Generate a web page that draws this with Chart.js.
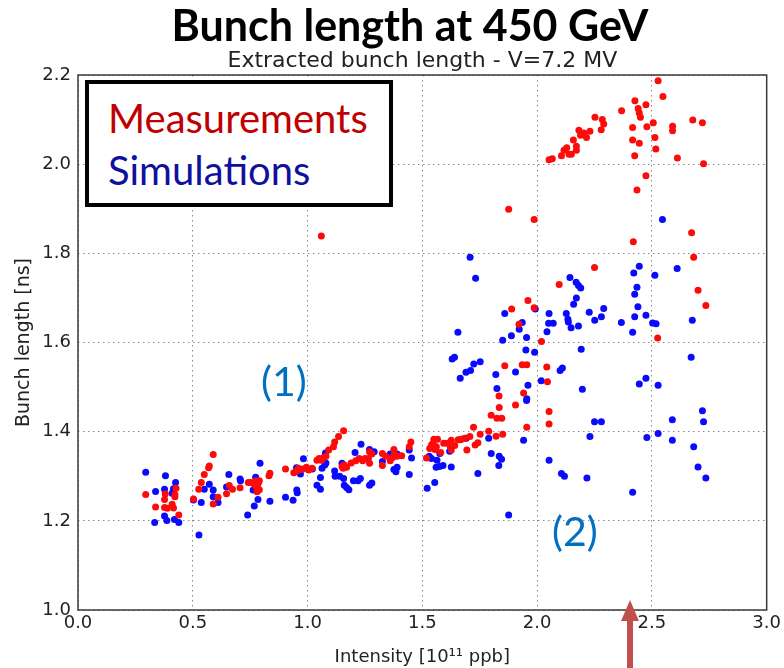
<!DOCTYPE html>
<html>
<head>
<meta charset="utf-8">
<script src="https://cdn.jsdelivr.net/npm/chart.js@4"></script>
<style>
  body { margin: 0; background: #fff; }
  #wrap { position: relative; width: 784px; height: 668px; overflow: hidden; }
  #chart { position: absolute; left: 0; top: 0; }
  .ov { position: absolute; white-space: nowrap; font-family: Lato, 'Open Sans', sans-serif; }
  #mainTitle { left: 0; width: 820px; top: -1px; text-align: center; font-weight: bold; font-size: 43px; color: #000; }
  #legendBox { left: 85px; top: 80px; width: 300px; height: 119px; border: 4px solid #000; background: #fff; }
  #legendBox div { position: absolute; left: 19px; font-size: 40px; }
  #sub1 { left: 261px; top: 356px; font-size: 41px; color: #0070c0; }
  #sub2 { left: 552px; top: 506px; font-size: 41px; color: #0070c0; }
  #arrow { position: absolute; left: 618px; top: 600px; }
</style>
</head>
<body>
<div id="wrap">
  <canvas id="chart" width="784" height="668"></canvas>
  <div class="ov" id="mainTitle">Bunch length at 450 GeV</div>
  <div class="ov" id="legendBox">
    <div style="top:10px;color:#c00000;">Measurements</div>
    <div style="top:62px;color:#10109e;">Simulations</div>
  </div>
  <div class="ov" id="sub1">(1)</div>
  <div class="ov" id="sub2">(2)</div>
  <svg id="arrow" width="24" height="70">
    <polygon points="12,0 3,21 9,21 9,70 15,70 15,21 21,21" fill="#c0504d"/>
  </svg>
</div>
<script>
// intensity [1e11 ppb], bunch length [ns]
const measX = [
  0.295, 0.338, 0.38, 0.377, 0.377, 0.389, 0.41, 0.416, 0.422, 0.422, 0.427, 0.439,
  0.503, 0.526, 0.537, 0.55, 0.569, 0.572, 0.589, 0.589, 0.61, 0.647, 0.659, 0.673, 0.706, 0.742, 0.752,
  0.77, 0.775, 0.78, 0.785, 0.79, 0.79, 0.78,
  0.832, 0.836, 0.904, 0.94, 0.952, 0.96, 0.97, 0.98, 0.995, 1.005, 1.02, 1.041, 1.05, 1.06, 1.07, 1.08,
  1.092, 1.113, 1.118, 1.135, 1.157, 1.15, 1.16, 1.17, 1.155,
  1.19, 1.21, 1.225, 1.24, 1.25, 1.265, 1.27, 1.28, 1.27, 1.326, 1.34, 1.36, 1.37, 1.376, 1.378, 1.39, 1.41,
  1.326, 1.443, 1.45,
  1.518, 1.532, 1.54, 1.547, 1.55, 1.566, 1.561, 1.555, 1.58, 1.593, 1.609, 1.622, 1.626, 1.626, 1.641,
  1.656, 1.665, 1.67, 1.684, 1.694, 1.707, 1.723, 1.73, 1.742, 1.752, 1.789, 1.8, 1.821, 1.85, 1.825,
  1.846, 1.835, 1.834, 1.906, 1.941, 1.955, 2.052, 2.052, 1.859, 1.935, 1.955, 2.042, 2.045, 2.019,
  1.921, 1.889, 1.987, 1.96, 2.096, 2.25, 1.876, 1.987, 1.06,
  2.052, 2.066, 2.106, 2.117, 2.129, 2.139, 2.149, 2.158, 2.171, 2.171, 2.182, 2.189, 2.204, 2.215, 2.23,
  2.252, 2.284, 2.29, 2.279, 2.368, 2.426, 2.474, 2.44, 2.445, 2.45, 2.527, 2.548, 2.506, 2.478, 2.416,
  2.678, 2.72, 2.59, 2.59, 2.513, 2.416, 2.445, 2.517, 2.425, 2.611, 2.725, 2.474, 2.435, 2.419, 2.673,
  2.682, 2.701, 2.735, 2.525
];
const measY = [
  1.259, 1.231, 1.26, 1.248, 1.23, 1.228, 1.237, 1.229, 1.259, 1.254, 1.273, 1.213,
  1.249, 1.271, 1.286, 1.304, 1.319, 1.323, 1.349, 1.238, 1.253, 1.261, 1.279, 1.271, 1.274, 1.286, 1.286,
  1.28, 1.29, 1.275, 1.284, 1.27, 1.29, 1.265,
  1.301, 1.307, 1.316, 1.308, 1.312, 1.318, 1.315, 1.316, 1.32, 1.314, 1.318, 1.336, 1.34, 1.336, 1.342, 1.345,
  1.359, 1.366, 1.377, 1.389, 1.402, 1.322, 1.325, 1.32, 1.318,
  1.33, 1.335, 1.34, 1.335, 1.34, 1.34, 1.355, 1.35, 1.329, 1.351, 1.345, 1.335, 1.342, 1.36, 1.35, 1.345, 1.346,
  1.324, 1.366, 1.377,
  1.341, 1.362, 1.37, 1.374, 1.383, 1.383, 1.366, 1.36, 1.353, 1.374, 1.374, 1.366, 1.381, 1.359, 1.369,
  1.382, 1.382, 1.383, 1.385, 1.359, 1.389, 1.41, 1.37, 1.375, 1.394, 1.401, 1.437, 1.39, 1.394, 1.43,
  1.43, 1.454, 1.48, 1.46, 1.487, 1.41, 1.445, 1.417, 1.548, 1.55, 1.55, 1.545, 1.512, 1.602,
  1.641, 1.675, 1.678, 1.694, 1.73, 1.768, 1.899, 1.876, 1.839,
  2.01, 2.012, 2.019, 2.031, 2.037, 2.022, 2.022, 2.054, 2.04, 2.031, 2.076, 2.065, 2.07, 2.06, 2.074,
  2.105, 2.1, 2.09, 2.077, 2.12, 2.142, 2.133, 2.125, 2.115, 2.105, 2.187, 2.152, 2.093, 2.084, 2.082,
  2.099, 2.093, 2.085, 2.075, 2.06, 2.054, 2.047, 2.034, 2.019, 2.014, 2.001, 1.974, 1.942, 1.826, 1.846,
  1.791, 1.717, 1.683, 1.61
];
const simX = [
  0.295, 0.381, 0.338, 0.425, 0.377, 0.416, 0.41, 0.377, 0.334, 0.387, 0.42, 0.439,
  0.527, 0.537, 0.55, 0.572, 0.589, 0.589, 0.61, 0.503, 0.657, 0.647, 0.706, 0.708,
  0.793, 0.774, 0.763, 0.784, 0.768, 0.739, 0.836, 0.904, 0.937, 0.953, 0.955, 0.982, 0.952, 0.969, 1.021, 1.041,
  1.056, 1.056, 1.063, 1.075, 1.078, 1.08, 1.118, 1.12, 1.14, 1.157, 1.15, 1.16, 1.17, 1.18, 1.2, 1.22, 1.23,
  1.207, 1.233, 1.27, 1.29, 1.27, 1.28, 1.326, 1.36, 1.375, 1.39, 1.376, 1.385, 1.39, 1.443, 1.453, 1.443,
  1.521, 1.554, 1.53, 1.54, 1.576, 1.564, 1.56, 1.575, 1.59, 1.626, 1.619, 1.691, 1.742, 1.789, 1.8,
  1.835, 1.845, 1.833, 1.876, 1.941, 1.954, 2.052, 2.106, 2.119,
  1.708, 1.732, 1.655, 1.859, 1.935, 1.922, 1.888, 1.85, 1.954, 1.992, 1.951, 1.989, 1.63, 1.64, 1.665,
  1.69, 1.71, 1.724, 1.752, 1.82, 1.825, 1.906, 1.96, 1.955, 2.018, 2.052, 2.05, 2.07, 2.043, 2.127,
  2.134, 2.136, 2.148, 2.18, 2.159, 2.171, 2.143, 2.17, 2.18, 2.19, 2.227, 2.251, 2.28, 2.29, 2.192,
  2.1, 2.11, 2.197, 2.25, 2.28, 2.23,
  2.546, 2.61, 2.445, 2.421, 2.513, 2.435, 2.425, 2.439, 2.425, 2.474, 2.367, 2.416, 2.503, 2.518, 2.676,
  2.671, 2.445, 2.474, 2.527, 2.72, 2.725, 2.589, 2.478, 2.527, 2.589, 2.682, 2.701, 2.735, 2.217, 2.416
];
const simY = [
  1.309, 1.301, 1.266, 1.286, 1.271, 1.272, 1.262, 1.211, 1.196, 1.201, 1.203, 1.196,
  1.168, 1.241, 1.271, 1.282, 1.269, 1.254, 1.241, 1.247, 1.304, 1.276, 1.294, 1.29,
  1.329, 1.298, 1.269, 1.248, 1.233, 1.213, 1.244, 1.253, 1.246, 1.269, 1.263, 1.339, 1.319, 1.305, 1.316, 1.28,
  1.271, 1.297, 1.318, 1.325, 1.352, 1.33, 1.312, 1.3, 1.3, 1.295, 1.329, 1.28, 1.275, 1.27, 1.29, 1.29, 1.295,
  1.353, 1.372, 1.36, 1.355, 1.28, 1.285, 1.333, 1.35, 1.352, 1.35, 1.315, 1.31, 1.32, 1.359, 1.341, 1.304,
  1.273, 1.286, 1.345, 1.34, 1.351, 1.336, 1.32, 1.322, 1.324, 1.321, 1.356, 1.385, 1.306, 1.385, 1.351,
  1.345, 1.338, 1.324, 1.213, 1.381, 1.47, 1.336, 1.306, 1.3,
  1.791, 1.744, 1.623, 1.665, 1.645, 1.63, 1.615, 1.605, 1.611, 1.675, 1.583, 1.578, 1.563, 1.567, 1.52,
  1.533, 1.537, 1.552, 1.557, 1.528, 1.497, 1.534, 1.504, 1.474, 1.514, 1.665, 1.643, 1.643, 1.624, 1.665,
  1.652, 1.646, 1.633, 1.637, 1.686, 1.7, 1.746, 1.735, 1.728, 1.722, 1.668, 1.65, 1.658, 1.676, 1.585,
  1.537, 1.543, 1.495, 1.422, 1.422, 1.389,
  1.876, 1.766, 1.771, 1.756, 1.751, 1.724, 1.708, 1.68, 1.658, 1.661, 1.645, 1.623, 1.644, 1.642, 1.65,
  1.567, 1.507, 1.52, 1.504, 1.447, 1.422, 1.427, 1.387, 1.396, 1.381, 1.366, 1.321, 1.296, 1.296, 1.264
];
const xTicks = [0, 0.5, 1.0, 1.5, 2.0, 2.5, 3.0];
const yTicks = [1.0, 1.2, 1.4, 1.6, 1.8, 2.0, 2.2];
const subTitle = 'Extracted bunch length - V=7.2 MV';

const toPts = (xs, ys) => xs.map((x, i) => ({ x: x, y: ys[i] }));
const axisFont = { family: "'DejaVu Sans', sans-serif", size: 18 };
const gridOpts = { color: '#8a8a8a', lineWidth: 1, drawTicks: false };
const borderOpts = { display: false, dash: [1.5, 3.5] };

// frame round the plot and the subtitle above it
const framePlugin = {
    id: 'frame',
    afterDraw(chart) {
        const { ctx, chartArea: a } = chart;
        ctx.save();
        ctx.strokeStyle = '#3a3a3a';
        ctx.lineWidth = 1.5;
        ctx.strokeRect(a.left, a.top, a.right - a.left, a.bottom - a.top);
        ctx.fillStyle = '#222';
        ctx.font = "22px 'DejaVu Sans', sans-serif";
        ctx.textAlign = 'center';
        ctx.textBaseline = 'alphabetic';
        ctx.fillText(subTitle, (a.left + a.right) / 2, a.top - 8);
        ctx.restore();
    }
};

new Chart(document.getElementById('chart').getContext('2d'), {
    type: 'scatter',
    data: {
        datasets: [
            {
                label: 'Measurements',
                data: toPts(measX, measY),
                backgroundColor: '#ff0a0a',
                borderWidth: 0,
                pointRadius: 3.5
            },
            {
                label: 'Simulations',
                data: toPts(simX, simY),
                backgroundColor: '#0a0aff',
                borderWidth: 0,
                pointRadius: 3.5
            }
        ]
    },
    options: {
        responsive: false,
        animation: false,
        layout: { padding: { left: 0, top: 75, right: 14, bottom: 0 } },
        plugins: { legend: { display: false }, tooltip: { enabled: false } },
        scales: {
            x: {
                type: 'linear', min: 0, max: 3,
                afterBuildTicks: s => { s.ticks = xTicks.map(v => ({ value: v })); },
                afterFit: s => { s.height = 58; },
                ticks: { color: '#222', font: axisFont, padding: 3, callback: v => v.toFixed(1) },
                grid: gridOpts,
                border: borderOpts,
                title: { display: true, text: 'Intensity [10¹¹ ppb]', color: '#222', font: axisFont, padding: { top: 2, bottom: 0 } }
            },
            y: {
                type: 'linear', min: 1.0, max: 2.2,
                afterBuildTicks: s => { s.ticks = yTicks.map(v => ({ value: v })); },
                afterFit: s => { s.width = 78; },
                ticks: { color: '#222', font: axisFont, padding: 7, callback: v => v.toFixed(1) },
                grid: gridOpts,
                border: borderOpts,
                title: { display: true, text: 'Bunch length [ns]', color: '#222', font: { family: "'DejaVu Sans', sans-serif", size: 19 }, padding: { top: 13, bottom: 4 } }
            }
        }
    },
    plugins: [framePlugin]
});
</script>
</body>
</html>
